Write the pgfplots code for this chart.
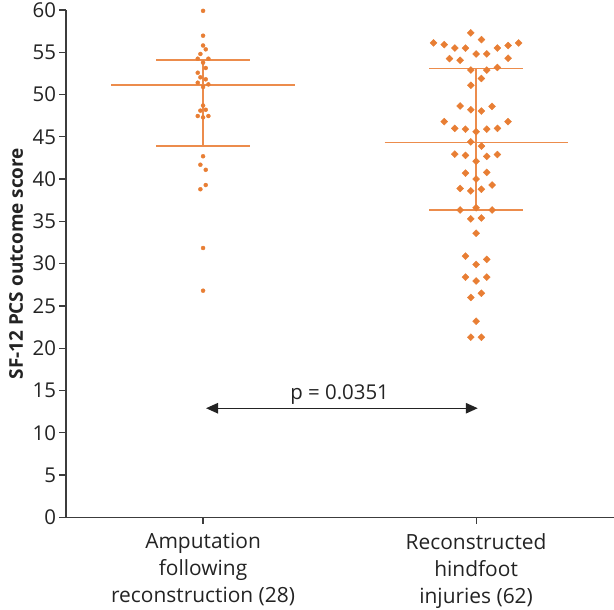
\documentclass[border=0pt]{standalone}
\usepackage{fontspec}
\setmainfont{Open Sans}
\usepackage{pgfplots}
\pgfplotsset{compat=1.18}
\usetikzlibrary{arrows.meta}
\definecolor{dotc}{RGB}{232,126,52}
\definecolor{linec}{RGB}{236,140,76}
\definecolor{axc}{RGB}{60,60,60}
\definecolor{txtc}{RGB}{35,35,35}

\pgfplotstableread{
x y
1 59.9
1 56.96
1 55.8
1.0098 55.35
0.9902 54.8
0.9805 54.24
1.0195 54.24
1 53.77
1.0098 53.14
0.9805 52.58
0.9902 52.04
1.0098 51.8
0.9805 51.4
1.0195 51.2
1 50.9
1 48.7
0.9902 48.1
1.0098 48.2
0.9805 47.46
1 47.3
1.0195 47.46
1 42.7
0.9902 41.7
1.0098 41.1
1.0098 39.3
0.9902 38.8
1 31.85
1 26.8
}\amput

\pgfplotstableread{
x y
1.9805 57.3
2.0195 56.5
1.844 56.1
1.883 55.9
1.922 55.5
1.961 55.5
2.156 56.1
2.117 55.8
2.078 55.5
2 54.8
2.039 54.8
1.9025 54.25
1.9415 54.05
2.117 54.3
1.9805 52.9
2.039 52.9
2.078 53.2
2.0195 51.9
1.9805 51.1
1.9415 48.65
1.9805 48.2
2.0195 48.05
2.0585 48.6
1.883 46.8
2.117 46.8
1.922 46.0
1.961 45.9
2 45.6
2.039 45.9
2.078 46.0
1.9805 44.4
2.0195 43.9
1.922 42.95
1.961 42.8
2.039 42.7
2.078 42.9
2 42.1
1.961 40.7
2.039 40.8
2 40.0
1.9415 38.9
1.9805 38.6
2.0195 38.8
2.0585 39.3
1.9415 36.35
2 36.6
2.0585 36.35
1.9805 35.3
2.0195 35.4
2 33.6
1.961 30.9
2.039 30.5
2 29.9
1.961 28.4
2 27.95
2.039 28.4
1.9805 26.0
2.0195 26.5
2 23.2
1.9805 21.3
2.0195 21.3
}\recon

\begin{document}
\begin{tikzpicture}
\begin{axis}[
 name=ax,
 scale only axis, width=548bp, height=507.3bp,
 xmin=0.498, xmax=2.505, ymin=0, ymax=60,
 axis x line=bottom, axis y line=left,
 axis line style={-, axc, line width=1.2bp},
 tick style={axc, line width=1.2bp},
 tick align=outside, major tick length=6.5bp,
 ytick={0,5,...,60},
 xtick={1,2},
 xticklabels={{Amputation\\following\\reconstruction (28)},{Reconstructed\\hindfoot\\injuries (62)}},
 xticklabel style={align=center, font=\fontsize{21}{27}\selectfont, text=txtc, yshift=-6bp},
 yticklabel style={font=\fontsize{20.5}{24}\selectfont, text=txtc},
 /pgf/number format/assume math mode=true,
 ylabel={SF-12 PCS outcome score},
 ylabel style={at={(axis description cs:-0.091,0.5)}, anchor=center, font=\fontsize{19}{22}\selectfont\bfseries, text=txtc},
 clip=false,
]
% mean and SD lines
\addplot[linec, line width=1.5bp] coordinates {(0.664,51.1) (1.336,51.1)};
\addplot[linec, line width=1.5bp] coordinates {(0.829,54.09) (1.171,54.09)};
\addplot[linec, line width=1.5bp] coordinates {(0.829,43.9) (1.171,43.9)};
\addplot[linec, line width=1.5bp] coordinates {(1,43.9) (1,54.09)};
\addplot[linec, line width=1.5bp] coordinates {(1.665,44.35) (2.335,44.35)};
\addplot[linec, line width=1.5bp] coordinates {(1.829,53.06) (2.171,53.06)};
\addplot[linec, line width=1.5bp] coordinates {(1.829,36.35) (2.171,36.35)};
\addplot[linec, line width=1.5bp] coordinates {(2,36.35) (2,53.06)};
% points
\addplot[only marks, mark=*, mark size=2bp, dotc, mark options={draw=none, fill=dotc}] table {\amput};
\addplot[only marks, mark=square*, mark size=2.45bp, dotc, mark options={draw=none, fill=dotc, rotate=45}] table {\recon};
% significance arrow
\addplot[txtc, line width=1.3bp, {Triangle[length=12bp,width=10.5bp]}-{Triangle[length=12bp,width=10.5bp]}] coordinates {(1.011,12.9) (2.006,12.9)};
\node[anchor=base, font=\fontsize{20.5}{24}\selectfont, text=txtc, yshift=9bp] at (axis cs:1.5,12.9) {p = 0.0351};
\end{axis}
\pgfresetboundingbox
\path[use as bounding box] ([xshift=-66bp,yshift=-92.7bp]ax.south west) rectangle ([xshift=548bp,yshift=517.3bp]ax.south west);
\end{tikzpicture}
\end{document}
